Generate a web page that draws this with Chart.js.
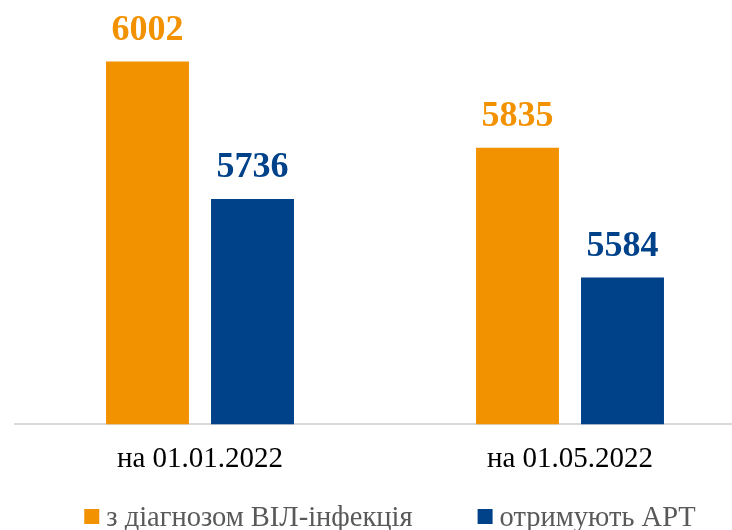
<!DOCTYPE html>
<html>
<head>
<meta charset="utf-8">
<script src="https://cdn.jsdelivr.net/npm/chart.js@4/dist/chart.umd.min.js"></script>
<style>
html,body{margin:0;padding:0;overflow:hidden;background:#fff;}
#wrap{position:relative;width:780px;height:530px;}
</style>
</head>
<body>
<div id="wrap"><canvas id="c"></canvas></div>
<script>
const categories = ['на 01.01.2022', 'на 01.05.2022'];
const seriesNames = ['з діагнозом ВІЛ-інфекція', 'отримують АРТ'];
const diagnosed = [6002, 5835];
const onART = [5736, 5584];
const seriesColors = ['#F39200', '#00428A'];

const valueLabels = {
  id: 'valueLabels',
  afterDatasetsDraw(chart) {
    const ctx = chart.ctx;
    chart.data.datasets.forEach((ds, i) => {
      const meta = chart.getDatasetMeta(i);
      meta.data.forEach((bar, j) => {
        ctx.save();
        ctx.font = 'bold 36px "Liberation Serif"';
        ctx.fillStyle = ds.backgroundColor;
        ctx.textAlign = 'center';
        ctx.textBaseline = 'alphabetic';
        ctx.fillText(String(ds.data[j]), bar.x, bar.y - 22);
        ctx.restore();
      });
    });
  }
};

const customLegend = {
  id: 'customLegend',
  afterDraw(chart) {
    const ctx = chart.ctx;
    ctx.save();
    ctx.font = '28.5px "Liberation Serif"';
    const items = chart.data.datasets.map(ds => ({
      text: ds.label, color: ds.backgroundColor, w: ctx.measureText(ds.label).width
    }));
    const box = 15, gap = 7, spacing = 65;
    let total = items.reduce((s, it) => s + box + gap + it.w, 0) + spacing * (items.length - 1);
    let x = chart.width / 2 - total / 2;
    const baseline = chart.height - 4;
    ctx.textBaseline = 'alphabetic';
    ctx.textAlign = 'left';
    items.forEach(it => {
      ctx.fillStyle = it.color;
      ctx.fillRect(x, baseline - 17, box, box);
      ctx.fillStyle = '#595959';
      ctx.fillText(it.text, x + box + gap, baseline);
      x += box + gap + it.w + spacing;
    });
    ctx.restore();
  }
};

new Chart(document.getElementById('c'), {
  type: 'bar',
  data: {
    labels: categories,
    datasets: [
      { label: seriesNames[0], data: diagnosed, backgroundColor: seriesColors[0] },
      { label: seriesNames[1], data: onART, backgroundColor: seriesColors[1] }
    ]
  },
  options: {
    responsive: true,
    maintainAspectRatio: false,
    animation: false,
    devicePixelRatio: 1,
    layout: { padding: { left: 15, right: 25, top: 11, bottom: 35 } },
    datasets: { bar: { categoryPercentage: 0.5676, barPercentage: 0.79 } },
    plugins: { legend: { display: false }, tooltip: { enabled: false } },
    scales: {
      x: {
        grid: { display: false, drawTicks: false },
        border: { display: true, color: '#d9d9d9', width: 2 },
        ticks: { color: '#000', font: { family: 'Liberation Serif', size: 29 }, padding: 18 }
      },
      y: {
        display: false,
        min: 5300,
        max: 6100
      }
    }
  },
  plugins: [valueLabels, customLegend]
});
</script>
</body>
</html>
